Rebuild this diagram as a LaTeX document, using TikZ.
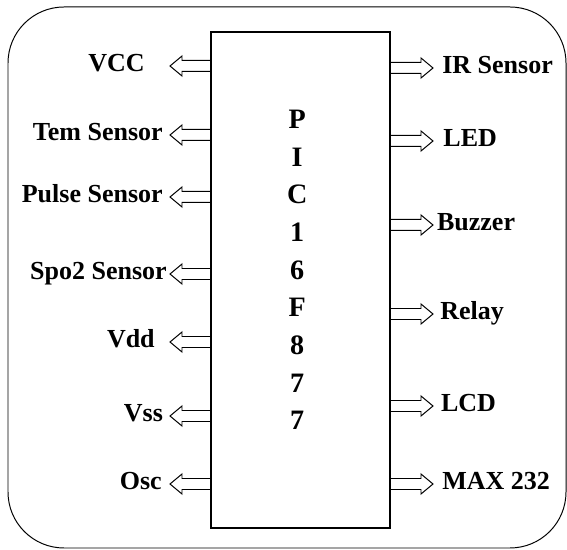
\documentclass[tikz,border=0pt]{standalone}
\usepackage{fontspec}
\setmainfont{Liberation Serif}
\begin{document}
\begin{tikzpicture}[
  pinarrow/.style={line width=0.7pt, line join=miter},
  lbl/.style={font=\fontsize{18.5}{20}\selectfont\bfseries, inner sep=0pt}
]
\useasboundingbox (0,0) rectangle (14.175,13.75);
\draw[line width=0.7pt, rounded corners=1.4cm] (0.2,0.05) rectangle (14.15,13.575);

\node[draw, line width=1.2pt, minimum width=4.475cm, minimum height=12.4cm, inner sep=0pt] (mcu) at (7.5125,6.75) {};
\node[align=center, font=\fontsize{20}{26.8}\selectfont\bfseries] (chipname) at (7.43,7.0) {P\\I\\C\\1\\6\\F\\8\\7\\7};

% pins on the left
\foreach \i/\y/\x/\txt in {1/12.1/3.625/VCC, 2/10.375/4.075/Tem Sensor, 3/8.825/4.075/Pulse Sensor,
  4/6.9/4.175/Spo2 Sensor, 5/5.2/3.875/Vdd, 6/3.35/4.08/Vss, 7/1.65/4.05/Osc}{
  \coordinate (in\i) at (5.275,\y);
  \coordinate (tin\i) at (4.25,\y);
  \draw[pinarrow] ([yshift=1.375mm]in\i) -| ([xshift=3mm,yshift=2.5mm]tin\i) -- (tin\i)
    -- ([xshift=3mm,yshift=-2.5mm]tin\i) |- ([yshift=-1.375mm]in\i);
  \node[lbl, anchor=base east] (lin\i) at (\x,\y-0.15) {\txt};
}

% pins on the right
\foreach \i/\y/\x/\txt in {1/12.05/11.05/IR Sensor, 2/10.225/11.08/LED, 3/8.125/10.92/Buzzer,
  4/5.9/11.0/Relay, 5/3.6/11.02/LCD, 6/1.65/11.05/MAX 232}{
  \coordinate (out\i) at (9.75,\y);
  \coordinate (tout\i) at (10.825,\y);
  \draw[pinarrow] ([yshift=1.375mm]out\i) -| ([xshift=-3mm,yshift=2.5mm]tout\i) -- (tout\i)
    -- ([xshift=-3mm,yshift=-2.5mm]tout\i) |- ([yshift=-1.375mm]out\i);
  \node[lbl, anchor=base west] (lout\i) at (\x,\y-0.15) {\txt};
}
\end{tikzpicture}
\end{document}
